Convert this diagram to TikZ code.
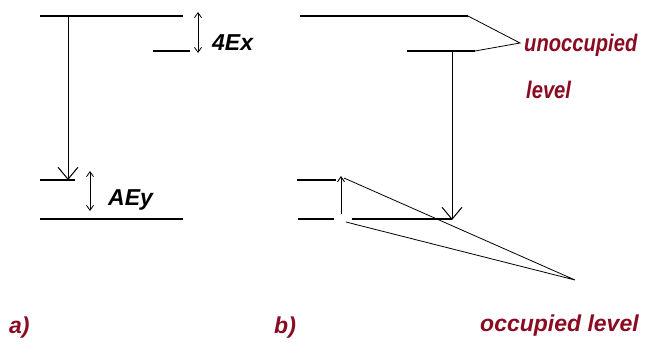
\documentclass[tikz,border=0pt]{standalone}
\usepackage{fontspec}
\newfontfamily\lblfont{Liberation Sans}
\newfontfamily\lblnarrow{Liberation Sans}[FakeStretch=0.84]
\usetikzlibrary{arrows.meta}
\definecolor{lvlred}{HTML}{8A0C22}
\begin{document}
\begin{tikzpicture}[x=1pt,y=-1pt,
  lvl/.style={line width=1.4pt},
  trans/.style={line width=1pt,-{Straight Barb[length=12pt,width=20pt,line width=1pt]}},
  gap/.style={line width=0.8pt,{Straight Barb[length=5pt,width=7pt]}-{Straight Barb[length=5pt,width=7pt]}},
  up/.style={line width=0.9pt,-{Straight Barb[length=5pt,width=7pt]}},
  pointer/.style={line width=0.8pt},
  blab/.style={font=\lblfont\bfseries\itshape\fontsize{23}{25}\selectfont,text=black,inner sep=0pt},
  rlab/.style={font=\lblnarrow\bfseries\itshape\fontsize{24}{26}\selectfont,text=lvlred,inner sep=0pt},
  rlabw/.style={font=\lblfont\bfseries\itshape\fontsize{23}{25}\selectfont,text=lvlred,inner sep=0pt}]
\useasboundingbox (0,0) rectangle (651,356);
\fill[white] (0,0) rectangle (651,356);
% ---- panel a ----
\coordinate (aTopL) at (40,16);   \coordinate (aTopR) at (183,16);
\coordinate (aMidL) at (153,51);  \coordinate (aMidR) at (190,51);
\coordinate (aLowL) at (40,180);  \coordinate (aLowR) at (75,180);
\coordinate (aBotL) at (40,219);  \coordinate (aBotR) at (183,219);
\draw[lvl] (aTopL) -- (aTopR);
\draw[lvl] (aMidL) -- (aMidR);
\draw[lvl] (aLowL) -- (aLowR);
\draw[lvl] (aBotL) -- (aBotR);
\coordinate (aArS) at (68,16); \coordinate (aArE) at (68,180);
\draw[trans] (aArS) -- (aArE);
\coordinate (xT) at (198,12); \coordinate (xB) at (198,53);
\draw[gap] (xT) -- (xB);
\coordinate (yT) at (90,171); \coordinate (yB) at (90,211);
\draw[gap] (yT) -- (yB);
\node[blab,anchor=base west] (dex) at (212,50) {4Ex};
\node[blab,anchor=base west] (dey) at (108,205) {AEy};
\node[rlabw,anchor=base west] (la) at (9,333) {a)};
% ---- panel b ----
\coordinate (bTopL) at (300,16);  \coordinate (bTopR) at (468,16);
\coordinate (bMidL) at (407,51);  \coordinate (bMidR) at (475,51);
\coordinate (bLowL) at (297,180); \coordinate (bLowR) at (336,180);
\coordinate (bBotL) at (298,219); \coordinate (bBotR) at (334,219);
\coordinate (bBot2L) at (352,219); \coordinate (bBot2R) at (452,219);
\draw[lvl] (bTopL) -- (bTopR);
\draw[lvl] (bMidL) -- (bMidR);
\draw[lvl] (bLowL) -- (bLowR);
\draw[lvl] (bBotL) -- (bBotR);
\draw[lvl] (bBot2L) -- (bBot2R);
\coordinate (bArS) at (452,51); \coordinate (bArE) at (452,220);
\draw[trans] (bArS) -- (bArE);
\coordinate (bUpS) at (341,214); \coordinate (bUpE) at (341,176);
\draw[up] (bUpS) -- (bUpE);
\coordinate (uTip) at (520,43);
\draw[pointer] (bTopR) -- (uTip) -- (bMidR);
\coordinate (oTip) at (575,280);
\coordinate (oA) at (344,178); \coordinate (oB) at (346,222);
\draw[pointer] (oA) -- (oTip) -- (oB);
\node[rlab,anchor=base west] (unocc) at (524,51) {unoccupied};
\node[rlab,anchor=base west] (lev) at (526,98) {level};
\node[rlabw,anchor=base west] (occ) at (480,331) {occupied level};
\node[rlabw,anchor=base west] (lb) at (274,333) {b)};
\end{tikzpicture}
\end{document}
